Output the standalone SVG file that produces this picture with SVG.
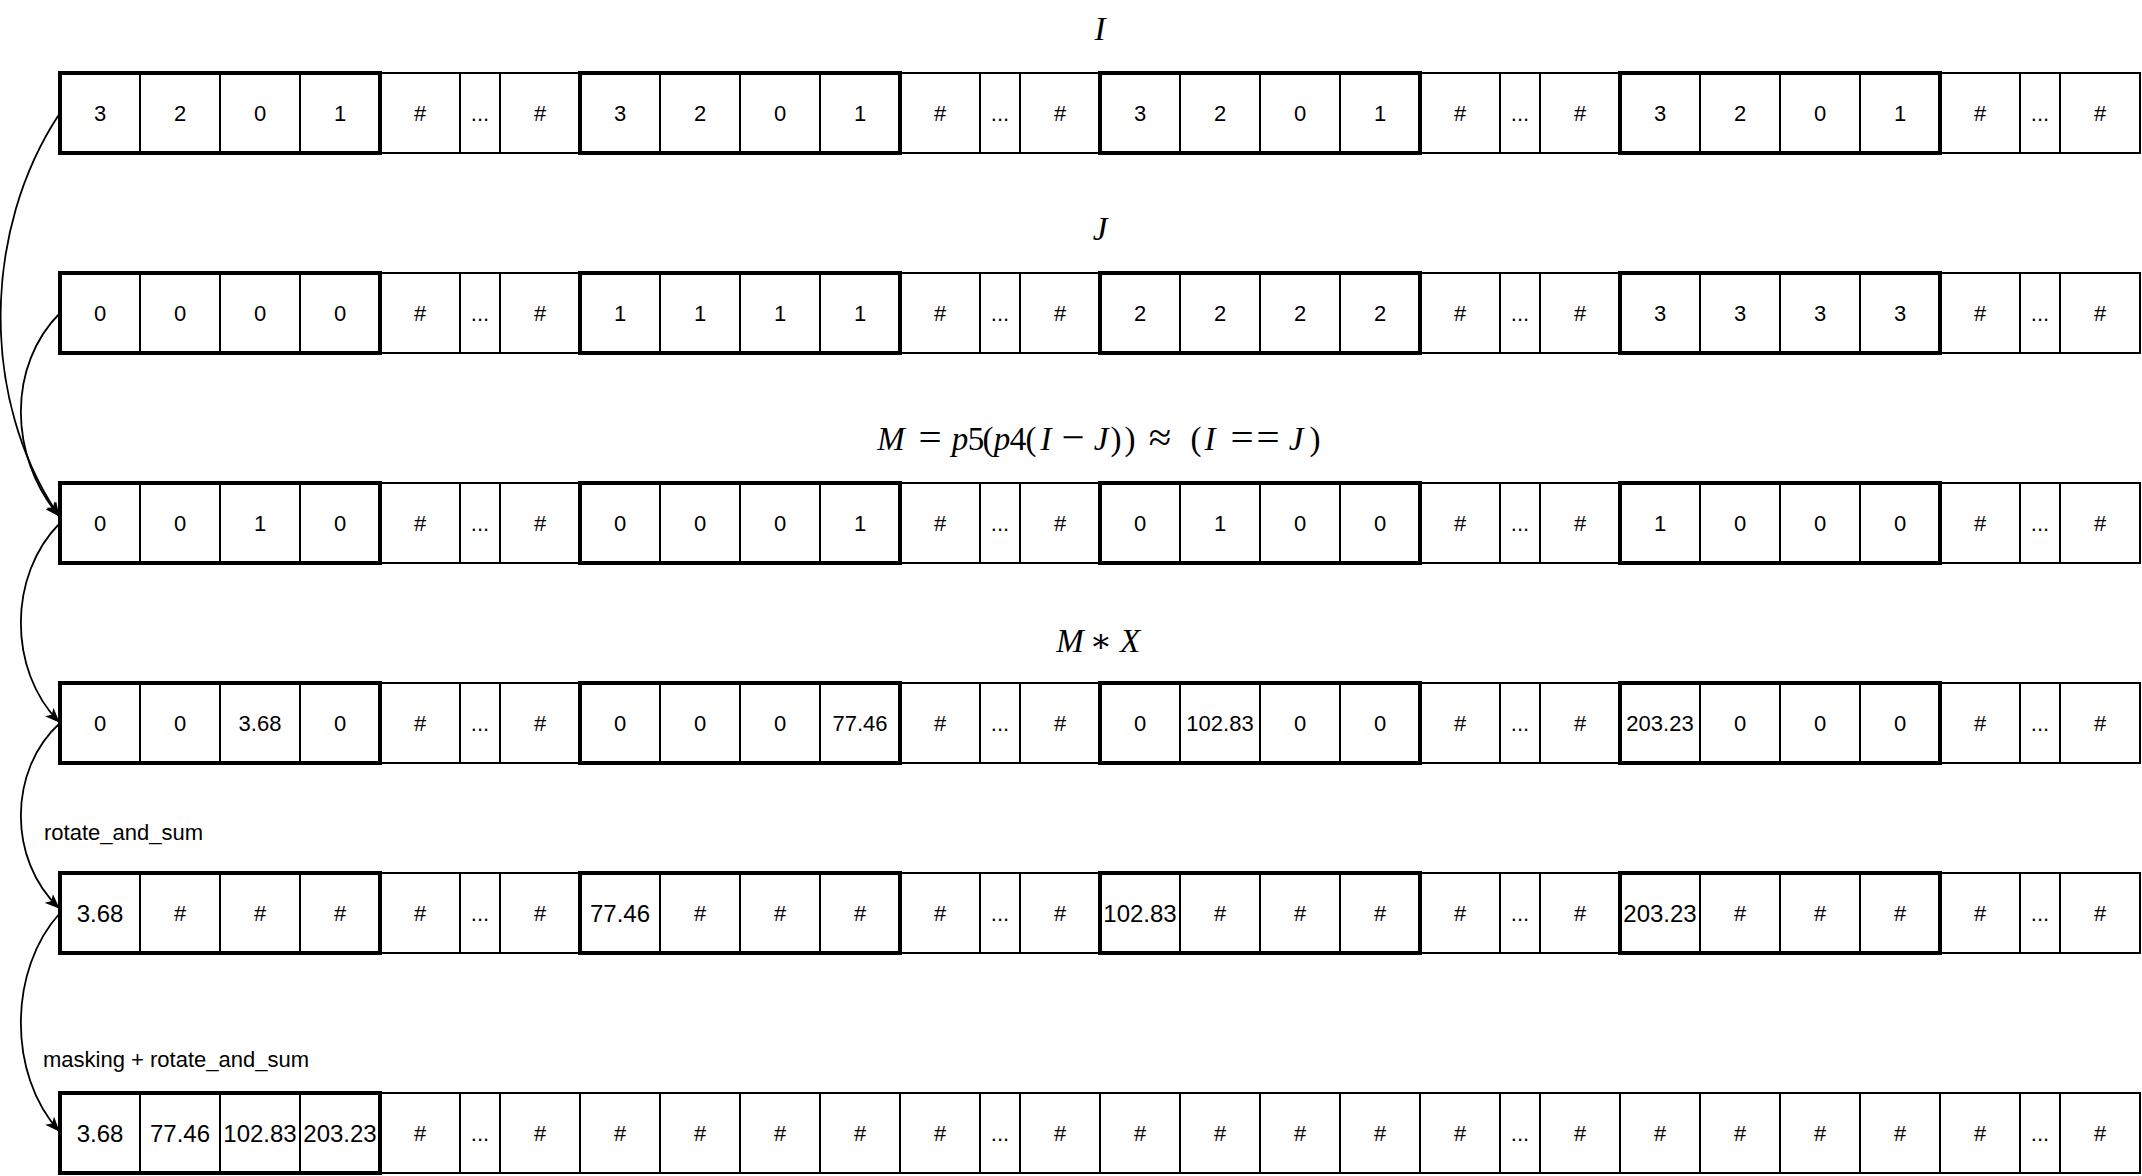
<svg xmlns="http://www.w3.org/2000/svg" xmlns:xlink="http://www.w3.org/1999/xlink" width="2142" height="1176" viewBox="0 0 2142 1176">
<style>
.thin{fill:#fff;stroke:#000;stroke-width:2}
.thick{fill:none;stroke:#000;stroke-width:4}
.v{font-family:"Liberation Sans",Arial,sans-serif;font-size:22px;text-anchor:middle;fill:#000}
.b{font-size:24px}
.math{font-family:"Liberation Serif","DejaVu Serif",serif;font-size:33px;text-anchor:middle;fill:#000}
.it{font-style:italic}
.op{font-size:41px}
.lbl{font-family:"Liberation Sans",Arial,sans-serif;font-size:22px;fill:#000}
.edge{fill:none;stroke:#000;stroke-width:1.8}
</style>
<defs>
<marker id="arr" markerUnits="userSpaceOnUse" viewBox="0 0 15 12" refX="14" refY="6" markerWidth="15" markerHeight="12" orient="auto">
<path d="M0,0 L15,6 L0,12 L3.8,6 Z" fill="#000"/>
</marker>
<g id="grid">
<rect class="thin" x="60" y="0" width="80" height="80"/><rect class="thin" x="140" y="0" width="80" height="80"/><rect class="thin" x="220" y="0" width="80" height="80"/><rect class="thin" x="300" y="0" width="80" height="80"/><rect class="thin" x="380" y="0" width="80" height="80"/><rect class="thin" x="460" y="0" width="40" height="80"/><rect class="thin" x="500" y="0" width="80" height="80"/>
<rect class="thin" x="580" y="0" width="80" height="80"/><rect class="thin" x="660" y="0" width="80" height="80"/><rect class="thin" x="740" y="0" width="80" height="80"/><rect class="thin" x="820" y="0" width="80" height="80"/><rect class="thin" x="900" y="0" width="80" height="80"/><rect class="thin" x="980" y="0" width="40" height="80"/><rect class="thin" x="1020" y="0" width="80" height="80"/>
<rect class="thin" x="1100" y="0" width="80" height="80"/><rect class="thin" x="1180" y="0" width="80" height="80"/><rect class="thin" x="1260" y="0" width="80" height="80"/><rect class="thin" x="1340" y="0" width="80" height="80"/><rect class="thin" x="1420" y="0" width="80" height="80"/><rect class="thin" x="1500" y="0" width="40" height="80"/><rect class="thin" x="1540" y="0" width="80" height="80"/>
<rect class="thin" x="1620" y="0" width="80" height="80"/><rect class="thin" x="1700" y="0" width="80" height="80"/><rect class="thin" x="1780" y="0" width="80" height="80"/><rect class="thin" x="1860" y="0" width="80" height="80"/><rect class="thin" x="1940" y="0" width="80" height="80"/><rect class="thin" x="2020" y="0" width="40" height="80"/><rect class="thin" x="2060" y="0" width="80" height="80"/>
</g>
<g id="groups">
<rect class="thick" x="60" y="0" width="320" height="80"/><rect class="thick" x="580" y="0" width="320" height="80"/><rect class="thick" x="1100" y="0" width="320" height="80"/><rect class="thick" x="1620" y="0" width="320" height="80"/>
</g>
</defs>

<g id="titles">
<text class="math it" x="1100" y="40">I</text>
<text class="math it" x="1100" y="240">J</text>
<text class="math" y="450"><tspan class="it" x="891">M</tspan><tspan class="op" x="930" dy="1">=</tspan><tspan class="it" x="960" dy="-1">p</tspan><tspan x="976">5</tspan><tspan x="988">(</tspan><tspan class="it" x="1002">p</tspan><tspan x="1018">4</tspan><tspan x="1031">(</tspan><tspan class="it" x="1046">I</tspan><tspan class="op" x="1073" dy="1">−</tspan><tspan class="it" x="1101" dy="-1">J</tspan><tspan x="1116">)</tspan><tspan x="1130">)</tspan><tspan class="op" x="1160" dy="1">≈</tspan><tspan x="1196" dy="-1">(</tspan><tspan class="it" x="1210">I</tspan><tspan class="op" x="1242" dy="1">=</tspan><tspan class="op" x="1268">=</tspan><tspan class="it" x="1296" dy="-1">J</tspan><tspan x="1315">)</tspan></text>
<text class="math" y="652"><tspan class="it" x="1070">M</tspan><tspan x="1101">∗</tspan><tspan class="it" x="1130">X</tspan></text>
<text class="lbl" x="44" y="840">rotate_and_sum</text>
<text class="lbl" x="43" y="1067">masking + rotate_and_sum</text>
</g>

<g id="row-I">
<use xlink:href="#grid" href="#grid" y="73"/><use xlink:href="#groups" href="#groups" y="73"/>
<text class="v" x="100" y="121">3</text><text class="v" x="180" y="121">2</text><text class="v" x="260" y="121">0</text><text class="v" x="340" y="121">1</text><text class="v" x="420" y="121">#</text><text class="v" x="480" y="121">...</text><text class="v" x="540" y="121">#</text>
<text class="v" x="620" y="121">3</text><text class="v" x="700" y="121">2</text><text class="v" x="780" y="121">0</text><text class="v" x="860" y="121">1</text><text class="v" x="940" y="121">#</text><text class="v" x="1000" y="121">...</text><text class="v" x="1060" y="121">#</text>
<text class="v" x="1140" y="121">3</text><text class="v" x="1220" y="121">2</text><text class="v" x="1300" y="121">0</text><text class="v" x="1380" y="121">1</text><text class="v" x="1460" y="121">#</text><text class="v" x="1520" y="121">...</text><text class="v" x="1580" y="121">#</text>
<text class="v" x="1660" y="121">3</text><text class="v" x="1740" y="121">2</text><text class="v" x="1820" y="121">0</text><text class="v" x="1900" y="121">1</text><text class="v" x="1980" y="121">#</text><text class="v" x="2040" y="121">...</text><text class="v" x="2100" y="121">#</text>
</g>

<g id="row-J">
<use xlink:href="#grid" href="#grid" y="273"/><use xlink:href="#groups" href="#groups" y="273"/>
<text class="v" x="100" y="321">0</text><text class="v" x="180" y="321">0</text><text class="v" x="260" y="321">0</text><text class="v" x="340" y="321">0</text><text class="v" x="420" y="321">#</text><text class="v" x="480" y="321">...</text><text class="v" x="540" y="321">#</text>
<text class="v" x="620" y="321">1</text><text class="v" x="700" y="321">1</text><text class="v" x="780" y="321">1</text><text class="v" x="860" y="321">1</text><text class="v" x="940" y="321">#</text><text class="v" x="1000" y="321">...</text><text class="v" x="1060" y="321">#</text>
<text class="v" x="1140" y="321">2</text><text class="v" x="1220" y="321">2</text><text class="v" x="1300" y="321">2</text><text class="v" x="1380" y="321">2</text><text class="v" x="1460" y="321">#</text><text class="v" x="1520" y="321">...</text><text class="v" x="1580" y="321">#</text>
<text class="v" x="1660" y="321">3</text><text class="v" x="1740" y="321">3</text><text class="v" x="1820" y="321">3</text><text class="v" x="1900" y="321">3</text><text class="v" x="1980" y="321">#</text><text class="v" x="2040" y="321">...</text><text class="v" x="2100" y="321">#</text>
</g>

<g id="row-M">
<use xlink:href="#grid" href="#grid" y="483"/><use xlink:href="#groups" href="#groups" y="483"/>
<text class="v" x="100" y="531">0</text><text class="v" x="180" y="531">0</text><text class="v" x="260" y="531">1</text><text class="v" x="340" y="531">0</text><text class="v" x="420" y="531">#</text><text class="v" x="480" y="531">...</text><text class="v" x="540" y="531">#</text>
<text class="v" x="620" y="531">0</text><text class="v" x="700" y="531">0</text><text class="v" x="780" y="531">0</text><text class="v" x="860" y="531">1</text><text class="v" x="940" y="531">#</text><text class="v" x="1000" y="531">...</text><text class="v" x="1060" y="531">#</text>
<text class="v" x="1140" y="531">0</text><text class="v" x="1220" y="531">1</text><text class="v" x="1300" y="531">0</text><text class="v" x="1380" y="531">0</text><text class="v" x="1460" y="531">#</text><text class="v" x="1520" y="531">...</text><text class="v" x="1580" y="531">#</text>
<text class="v" x="1660" y="531">1</text><text class="v" x="1740" y="531">0</text><text class="v" x="1820" y="531">0</text><text class="v" x="1900" y="531">0</text><text class="v" x="1980" y="531">#</text><text class="v" x="2040" y="531">...</text><text class="v" x="2100" y="531">#</text>
</g>

<g id="row-MX">
<use xlink:href="#grid" href="#grid" y="683"/><use xlink:href="#groups" href="#groups" y="683"/>
<text class="v" x="100" y="731">0</text><text class="v" x="180" y="731">0</text><text class="v" x="260" y="731">3.68</text><text class="v" x="340" y="731">0</text><text class="v" x="420" y="731">#</text><text class="v" x="480" y="731">...</text><text class="v" x="540" y="731">#</text>
<text class="v" x="620" y="731">0</text><text class="v" x="700" y="731">0</text><text class="v" x="780" y="731">0</text><text class="v" x="860" y="731">77.46</text><text class="v" x="940" y="731">#</text><text class="v" x="1000" y="731">...</text><text class="v" x="1060" y="731">#</text>
<text class="v" x="1140" y="731">0</text><text class="v" x="1220" y="731">102.83</text><text class="v" x="1300" y="731">0</text><text class="v" x="1380" y="731">0</text><text class="v" x="1460" y="731">#</text><text class="v" x="1520" y="731">...</text><text class="v" x="1580" y="731">#</text>
<text class="v" x="1660" y="731">203.23</text><text class="v" x="1740" y="731">0</text><text class="v" x="1820" y="731">0</text><text class="v" x="1900" y="731">0</text><text class="v" x="1980" y="731">#</text><text class="v" x="2040" y="731">...</text><text class="v" x="2100" y="731">#</text>
</g>

<g id="row-rot">
<use xlink:href="#grid" href="#grid" y="873"/><use xlink:href="#groups" href="#groups" y="873"/>
<text class="v b" x="100" y="921.5">3.68</text><text class="v" x="180" y="921">#</text><text class="v" x="260" y="921">#</text><text class="v" x="340" y="921">#</text><text class="v" x="420" y="921">#</text><text class="v" x="480" y="921">...</text><text class="v" x="540" y="921">#</text>
<text class="v b" x="620" y="921.5">77.46</text><text class="v" x="700" y="921">#</text><text class="v" x="780" y="921">#</text><text class="v" x="860" y="921">#</text><text class="v" x="940" y="921">#</text><text class="v" x="1000" y="921">...</text><text class="v" x="1060" y="921">#</text>
<text class="v b" x="1140" y="921.5">102.83</text><text class="v" x="1220" y="921">#</text><text class="v" x="1300" y="921">#</text><text class="v" x="1380" y="921">#</text><text class="v" x="1460" y="921">#</text><text class="v" x="1520" y="921">...</text><text class="v" x="1580" y="921">#</text>
<text class="v b" x="1660" y="921.5">203.23</text><text class="v" x="1740" y="921">#</text><text class="v" x="1820" y="921">#</text><text class="v" x="1900" y="921">#</text><text class="v" x="1980" y="921">#</text><text class="v" x="2040" y="921">...</text><text class="v" x="2100" y="921">#</text>
</g>

<g id="row-mask">
<use xlink:href="#grid" href="#grid" y="1093"/>
<rect class="thick" x="60" y="1093" width="320" height="80"/>
<text class="v b" x="100" y="1141.5">3.68</text><text class="v b" x="180" y="1141.5">77.46</text><text class="v b" x="260" y="1141.5">102.83</text><text class="v b" x="340" y="1141.5">203.23</text><text class="v" x="420" y="1141">#</text><text class="v" x="480" y="1141">...</text><text class="v" x="540" y="1141">#</text>
<text class="v" x="620" y="1141">#</text><text class="v" x="700" y="1141">#</text><text class="v" x="780" y="1141">#</text><text class="v" x="860" y="1141">#</text><text class="v" x="940" y="1141">#</text><text class="v" x="1000" y="1141">...</text><text class="v" x="1060" y="1141">#</text>
<text class="v" x="1140" y="1141">#</text><text class="v" x="1220" y="1141">#</text><text class="v" x="1300" y="1141">#</text><text class="v" x="1380" y="1141">#</text><text class="v" x="1460" y="1141">#</text><text class="v" x="1520" y="1141">...</text><text class="v" x="1580" y="1141">#</text>
<text class="v" x="1660" y="1141">#</text><text class="v" x="1740" y="1141">#</text><text class="v" x="1820" y="1141">#</text><text class="v" x="1900" y="1141">#</text><text class="v" x="1980" y="1141">#</text><text class="v" x="2040" y="1141">...</text><text class="v" x="2100" y="1141">#</text>
</g>

<g id="connectors">
<path class="edge" d="M60,113 C-18,230 -20,400 59,516" marker-end="url(#arr)"/>
<path class="edge" d="M60,313 C8,365 8,455 59,516" marker-end="url(#arr)"/>
<path class="edge" d="M60,523 C8,575 8,670 59,722" marker-end="url(#arr)"/>
<path class="edge" d="M60,723 C8,770 8,860 59,908" marker-end="url(#arr)"/>
<path class="edge" d="M60,913 C8,970 8,1075 59,1131" marker-end="url(#arr)"/>
</g>
</svg>
